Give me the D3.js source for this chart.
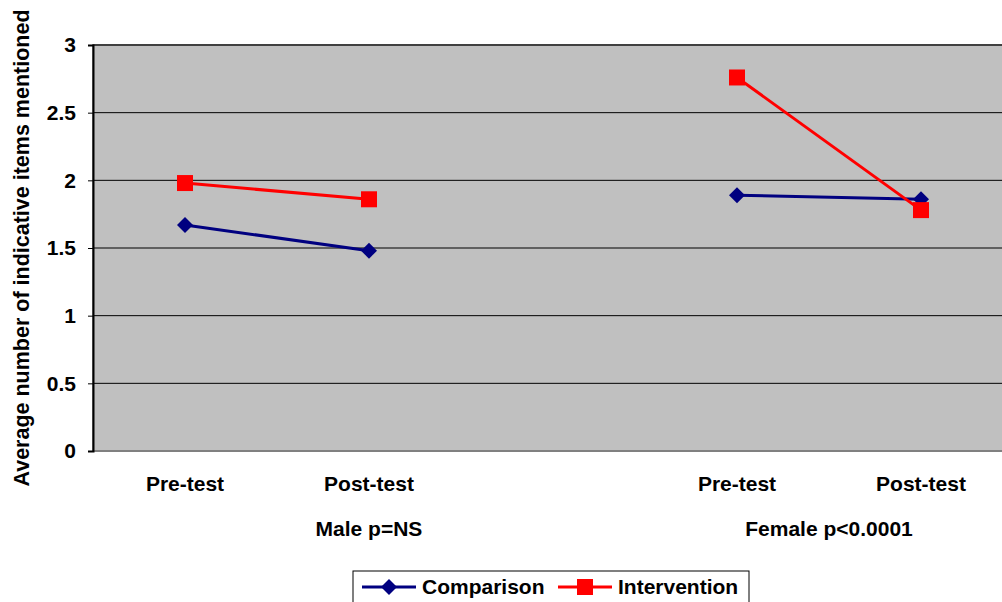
<!DOCTYPE html>
<meta charset="utf-8">
<style>
  body { margin: 0; background: #fff; }
  text { font-family: "Liberation Sans", Arial, sans-serif; font-weight: bold; }
</style>
<body>
<script src="https://d3js.org/d3.v7.min.js"></script>
<script>
// chart data
var slots = ["mPre", "mPost", "gap", "fPre", "fPost"];
var slotLabels = ["Pre-test", "Post-test", "", "Pre-test", "Post-test"];
var groups = ["Male p=NS", "Female p<0.0001"];
var groupSlots = [["mPre", "mPost", "gap"], ["fPre", "fPost"]];
var comparison = [1.67, 1.48, null, 1.89, 1.86];
var intervention = [1.98, 1.86, null, 2.76, 1.78];
var yTicks = [0, 0.5, 1, 1.5, 2, 2.5, 3];

var margin = { top: 45, left: 93 },
    width = 920, height = 406;

var svg = d3.select("body").append("svg")
  .attr("width", 1002).attr("height", 602);

var g = svg.append("g")
  .attr("transform", "translate(" + margin.left + "," + margin.top + ")");

var x = d3.scaleBand().domain(slots).range([0, width]);
var y = d3.scaleLinear().domain([0, 3]).range([height, 0]);

// plot area
g.append("rect")
  .attr("width", width).attr("height", height)
  .attr("fill", "#c0c0c0")
  .attr("stroke", "#808080").attr("stroke-width", 2);

// gridlines
g.selectAll(".grid").data(yTicks.filter(function (d) { return d > 0; }))
  .enter().append("line")
  .attr("x1", 0).attr("x2", width)
  .attr("y1", function (d) { return y(d); })
  .attr("y2", function (d) { return y(d); })
  .attr("stroke", "#000").attr("stroke-width", 1);

// y axis
var yAxis = g.append("g")
  .call(d3.axisLeft(y).tickValues(yTicks).tickSize(5).tickPadding(12).tickFormat(d3.format("")));
yAxis.select(".domain").attr("stroke", "#000").attr("stroke-width", 2);
yAxis.selectAll("text").attr("font-size", 21).attr("fill", "#000");

// category labels
g.selectAll(".cat").data(slots)
  .enter().append("text")
  .attr("x", function (d) { return x(d) + x.bandwidth() / 2; })
  .attr("y", height + 40)
  .attr("text-anchor", "middle")
  .attr("font-size", 21)
  .text(function (d, i) { return slotLabels[i]; });

g.selectAll(".grp").data(groups)
  .enter().append("text")
  .attr("x", function (d, i) {
    var s = groupSlots[i];
    return (x(s[0]) + x(s[s.length - 1]) + x.bandwidth()) / 2;
  })
  .attr("y", height + 85)
  .attr("text-anchor", "middle")
  .attr("font-size", 21)
  .text(function (d) { return d; });

// y axis title
svg.append("text")
  .attr("transform", "translate(29,248) rotate(-90)")
  .attr("text-anchor", "middle")
  .attr("font-size", 21.5)
  .text("Average number of indicative items mentioned");

// series
var line = d3.line()
  .defined(function (d) { return d != null; })
  .x(function (d, i) { return x(slots[i]) + x.bandwidth() / 2; })
  .y(function (d) { return y(d); });

function drawSeries(vals, color, shape) {
  g.append("path").datum(vals)
    .attr("fill", "none").attr("stroke", color).attr("stroke-width", 3)
    .attr("d", line);
  var pts = vals.map(function (d, i) { return { v: d, s: slots[i] }; })
    .filter(function (d) { return d.v != null; });
  g.selectAll(null).data(pts).enter().append("path")
    .attr("transform", function (d) {
      return "translate(" + (x(d.s) + x.bandwidth() / 2) + "," + y(d.v) + ")";
    })
    .attr("d", shape)
    .attr("fill", color);
}
var diamond = "M0,-8L8,0L0,8L-8,0Z";
var square = "M-8,-8H8V8H-8Z";
drawSeries(comparison, "#000080", diamond);
drawSeries(intervention, "#ff0000", square);

// legend
var lg = svg.append("g").attr("transform", "translate(353,571)");
lg.append("rect").attr("x", 0).attr("y", 0).attr("width", 396).attr("height", 40)
  .attr("fill", "#fff").attr("stroke", "#000").attr("stroke-width", 1);
var items = [
  { name: "Comparison", color: "#000080", shape: diamond, x: 9 },
  { name: "Intervention", color: "#ff0000", shape: square, x: 205 }
];
items.forEach(function (it) {
  var ig = lg.append("g").attr("transform", "translate(" + it.x + ",16)");
  ig.append("line").attr("x1", 0).attr("x2", 54).attr("stroke", it.color).attr("stroke-width", 3);
  ig.append("path").attr("transform", "translate(27,0)").attr("d", it.shape).attr("fill", it.color);
  ig.append("text").attr("x", 60).attr("y", 7).attr("font-size", 21).text(it.name);
});
</script>
</body>
